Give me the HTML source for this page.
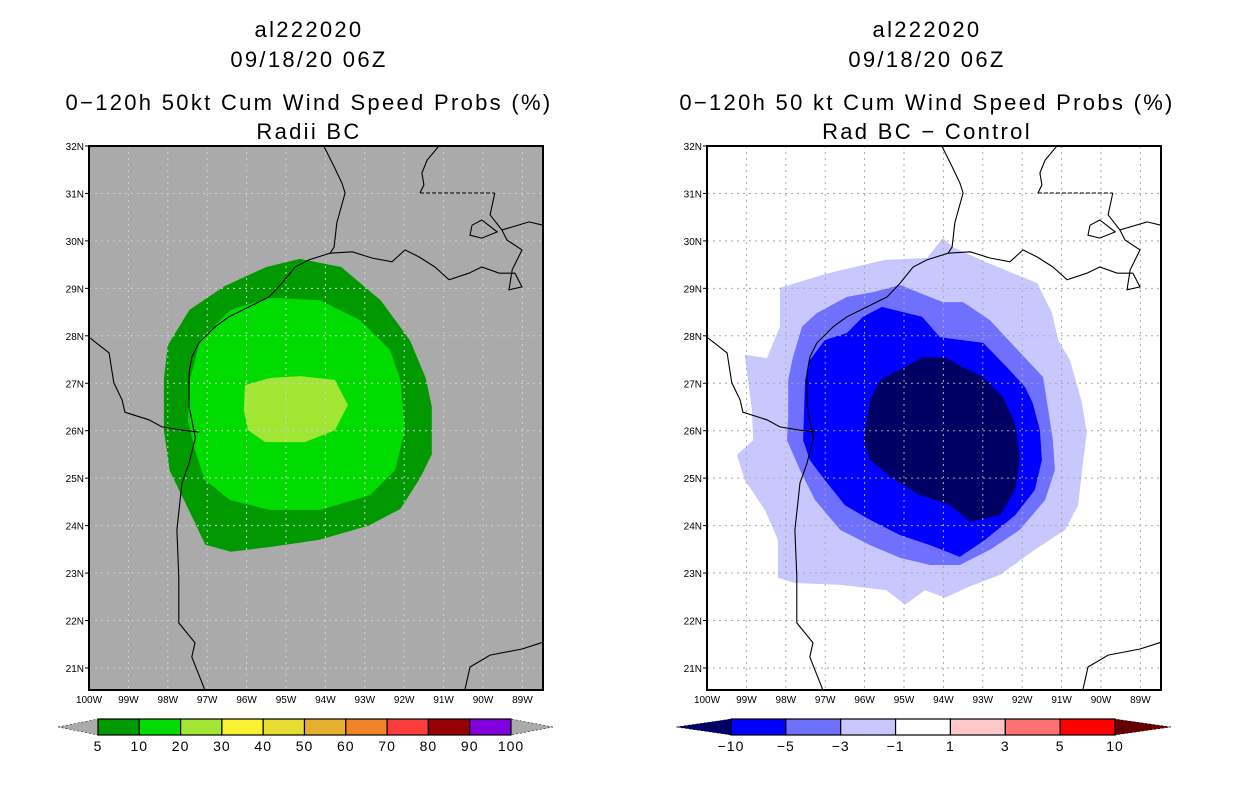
<!DOCTYPE html>
<html><head><meta charset="utf-8"><style>
html,body{margin:0;padding:0;background:#fff;}
svg{display:block;font-family:"Liberation Sans",sans-serif;}
.t{font-size:22px;text-anchor:middle;fill:#000;letter-spacing:2.3px;}
.ax{font-size:10px;fill:#000;}
.cb{font-size:14px;text-anchor:middle;fill:#000;letter-spacing:1px;}
</style></head><body>
<svg id="root" width="1236" height="800" viewBox="0 0 1236 800">
<g>
<text class="t" x="309" y="37">al222020</text>
<text class="t" x="309" y="67">09/18/20 06Z</text>
<text class="t" x="309" y="110">0−120h 50kt Cum Wind Speed Probs (%)</text>
<text class="t" x="309" y="139">Radii BC</text>
</g>
<g>
<text class="t" x="927" y="37">al222020</text>
<text class="t" x="927" y="67">09/18/20 06Z</text>
<text class="t" x="927" y="110">0−120h 50 kt Cum Wind Speed Probs (%)</text>
<text class="t" x="927" y="139">Rad BC − Control</text>
</g>
<g id="leftPanel"></g>
<g id="rightPanel"></g>
<g id="leftBar"></g>
<g id="rightBar"></g>
</svg>
<script>
const lonTicks=[-100,-99,-98,-97,-96,-95,-94,-93,-92,-91,-90,-89];
const lonLabels=["100W","99W","98W","97W","96W","95W","94W","93W","92W","91W","90W","89W"];
const latTicks=[21,22,23,24,25,26,27,28,29,30,31,32];
const latLabels=["21N","22N","23N","24N","25N","26N","27N","28N","29N","30N","31N","32N"];

const leftLevels=["5","10","20","30","40","50","60","70","80","90","100"];
const leftColors=["#009a00","#00dc00","#a0e632","#f8f232","#e6dc32","#e6af2d","#f08228","#fa3c3c","#960000","#8200dc"];
const rightLevels=["−10","−5","−3","−1","1","3","5","10"];
const rightColors=["#0000ff","#7070ff","#c8c8ff","#ffffff","#ffc8c8","#ff7070","#ff0000"];

const prob5=[[-98.1,27.1],[-98.0,27.8],[-97.45,28.55],[-96.55,29.05],[-95.5,29.45],[-94.65,29.62],[-93.6,29.45],[-92.6,28.75],[-91.85,27.9],[-91.45,27.1],[-91.3,26.5],[-91.3,25.5],[-91.6,25.0],[-92.1,24.35],[-92.9,24.0],[-94.15,23.7],[-95.4,23.55],[-96.4,23.45],[-97.05,23.6],[-97.45,24.3],[-97.95,25.15],[-98.1,26.0]];
const prob10=[[-97.44,27.07],[-97.18,27.91],[-96.42,28.54],[-95.41,28.8],[-94.14,28.75],[-93.12,28.33],[-92.36,27.7],[-92.1,27.07],[-91.98,26.01],[-92.23,25.17],[-92.87,24.64],[-94.14,24.33],[-95.41,24.33],[-96.42,24.54],[-97.06,24.96],[-97.31,25.59],[-97.49,26.22]];
const prob20=[[-96.04,26.96],[-95.41,27.11],[-94.64,27.15],[-93.76,27.07],[-93.43,26.54],[-93.76,26.01],[-94.52,25.76],[-95.53,25.76],[-95.96,26.01],[-96.07,26.43]];

const diff1=[[-99.04,27.60],[-98.48,27.53],[-98.15,28.19],[-98.15,29.01],[-96.93,29.32],[-95.48,29.60],[-94.42,29.64],[-94.01,30.06],[-93.76,29.87],[-92.94,29.56],[-91.62,29.11],[-91.24,28.48],[-91.09,27.91],[-90.79,27.49],[-90.48,26.58],[-90.36,25.95],[-90.48,25.17],[-90.58,24.43],[-90.91,23.91],[-91.68,23.49],[-92.56,22.96],[-93.32,22.72],[-93.96,22.48],[-94.47,22.64],[-94.97,22.33],[-95.45,22.64],[-96.62,22.75],[-97.77,22.79],[-98.20,22.90],[-98.20,23.70],[-98.53,24.33],[-99.04,24.96],[-99.24,25.49],[-98.83,25.80],[-98.86,26.44]];
const diff3=[[-95.10,29.07],[-94.59,28.90],[-94.01,28.71],[-93.50,28.71],[-92.82,28.33],[-92.18,27.76],[-91.47,27.13],[-91.35,26.50],[-91.22,25.80],[-91.17,25.17],[-91.42,24.54],[-92.06,23.91],[-92.82,23.49],[-93.58,23.17],[-94.34,23.17],[-95.10,23.32],[-95.86,23.59],[-96.62,23.91],[-97.26,24.54],[-97.64,25.17],[-97.97,25.80],[-97.94,26.29],[-97.94,27.07],[-97.82,27.55],[-97.59,28.19],[-97.21,28.48],[-96.45,28.82],[-95.79,28.92]];
const diff5=[[-95.56,28.61],[-95.03,28.50],[-94.54,28.40],[-94.09,27.97],[-92.99,27.85],[-92.39,27.34],[-91.93,26.92],[-91.73,26.58],[-91.55,26.01],[-91.50,25.38],[-91.68,24.75],[-92.18,24.22],[-92.94,23.70],[-93.58,23.34],[-94.34,23.59],[-95.10,23.80],[-95.86,24.12],[-96.50,24.43],[-97.01,24.96],[-97.39,25.38],[-97.56,25.80],[-97.51,27.07],[-97.39,27.49],[-97.01,27.91],[-96.45,28.06],[-96.04,28.40]];
const diff10=[[-94.52,27.55],[-93.96,27.55],[-93.50,27.34],[-92.99,27.13],[-92.49,26.71],[-92.18,26.16],[-92.06,25.38],[-92.18,24.75],[-92.56,24.22],[-93.32,24.08],[-93.83,24.43],[-94.59,24.64],[-95.23,24.96],[-95.86,25.38],[-96.02,25.80],[-95.86,26.65],[-95.61,27.07]];

const coastMain=[[-93.58,31.22],[-93.50,31.01],[-93.71,30.38],[-93.78,29.87],[-93.88,29.74],[-94.42,29.60],[-94.77,29.45],[-95.10,29.11],[-95.43,28.82],[-95.94,28.61],[-96.45,28.40],[-96.80,28.19],[-97.21,27.85],[-97.39,27.55],[-97.46,27.22],[-97.46,26.50],[-97.30,25.85],[-97.46,25.32],[-97.64,24.90],[-97.77,23.91],[-97.72,22.92],[-97.72,21.95],[-97.31,21.53],[-97.39,21.23],[-97.06,20.54]];
const sabine=[[-94.04,32.0],[-93.80,31.6],[-93.58,31.22]];
const coastEast=[[-93.88,29.74],[-93.32,29.77],[-92.82,29.64],[-92.31,29.56],[-91.98,29.81],[-91.62,29.66],[-91.22,29.45],[-90.86,29.18],[-90.36,29.32],[-90.03,29.45],[-89.59,29.32],[-89.19,29.32],[-89.01,29.03],[-89.34,28.97],[-89.26,29.39],[-89.01,29.81],[-89.39,30.02],[-89.52,30.23],[-88.83,30.40],[-88.48,30.33]];
const pearl=[[-89.70,31.01],[-89.82,30.55],[-89.52,30.23]];
const missRiver=[[-91.12,32.0],[-91.42,31.70],[-91.55,31.43],[-91.50,31.18],[-91.60,31.01]];
const lakeP=[[-90.28,30.33],[-90.03,30.44],[-89.64,30.19],[-90.03,30.06],[-90.33,30.12],[-90.28,30.33]];
const stateLine=[[-91.60,31.01],[-89.70,31.01]];
const rioGrande=[[-100,27.97],[-99.49,27.64],[-99.37,27.01],[-99.16,26.65],[-99.09,26.39],[-98.48,26.23],[-98.15,26.08],[-97.64,26.01],[-97.20,25.97]];
const yucatan=[[-90.46,20.54],[-90.33,21.02],[-89.82,21.27],[-89.01,21.40],[-88.45,21.55]];

const NS="http://www.w3.org/2000/svg";
const LON0=-100,LAT0=32,DX=39.4,DY=47.45,W=454,H=544,PY=146;
function mk(tag,attrs,parent){const e=document.createElementNS(NS,tag);for(const k in attrs)e.setAttribute(k,attrs[k]);parent.appendChild(e);return e;}
function panel(g,x0,bg,gridCol,fills){
  const xs=lon=>x0+(lon-LON0)*DX;
  const ys=lat=>PY+(LAT0-lat)*DY;
  const cid='clip'+x0;
  const defs=mk('defs',{},g);
  const cp=mk('clipPath',{id:cid},defs);
  mk('rect',{x:x0,y:PY,width:W,height:H},cp);
  const bgR=mk('rect',{x:x0,y:PY,width:W,height:H,fill:bg},g);
  
  
  const inner=mk('g',{'clip-path':'url(#'+cid+')'},g);
  fills.forEach(f=>{
    const p=mk('polygon',{points:f.pts.map(d=>xs(d[0]).toFixed(1)+','+ys(d[1]).toFixed(1)).join(' '),fill:f.color},inner);
    
    
  });
  lonTicks.forEach(l=>{const x=xs(l);
    const ln=mk('line',{x1:x,x2:x,y1:PY,y2:PY+H,stroke:gridCol,'stroke-width':1,'stroke-dasharray':'2,4'},inner);
    
    });
  latTicks.forEach(l=>{const y=ys(l);
    const ln=mk('line',{x1:x0,x2:x0+W,y1:y,y2:y,stroke:gridCol,'stroke-width':1,'stroke-dasharray':'2,4'},inner);
    
    });
  const lines=[[coastMain,'coastline',''],[sabine,'sabine-border',''],[coastEast,'louisiana-coast',''],[pearl,'pearl-river-border',''],[missRiver,'mississippi-border',''],[lakeP,'lake-pontchartrain',''],[stateLine,'state-border','4,2'],[rioGrande,'mexico-border',''],[yucatan,'yucatan-coast','']];
  lines.forEach(L=>{
    const p=mk('polyline',{points:L[0].map(d=>xs(d[0]).toFixed(1)+','+ys(d[1]).toFixed(1)).join(' '),fill:'none',stroke:'#000','stroke-width':1.1,'stroke-dasharray':L[2]||'none'},inner);
    
    
  });
  const fr=mk('rect',{x:x0,y:PY,width:W,height:H,fill:'none',stroke:'#000','stroke-width':2},g);
  
  
  lonTicks.forEach((l,i)=>{const x=xs(l);
    const t=mk('text',{x:x,y:PY+H+13,'text-anchor':'middle',class:'ax'},g);t.textContent=lonLabels[i];
    
    });
  latTicks.forEach((l,i)=>{const y=ys(l);
    mk('line',{x1:x0-4,x2:x0,y1:y,y2:y,stroke:'#000'},g);
    const t=mk('text',{x:x0-5,y:y+4,'text-anchor':'end',class:'ax'},g);t.textContent=latLabels[i];
    
    });
}
panel(document.getElementById('leftPanel'),89,'#aaaaaa','#cfcfcf',[
  {pts:prob5,color:leftColors[0],name:'contour-5-10'},
  {pts:prob10,color:leftColors[1],name:'contour-10-20'},
  {pts:prob20,color:leftColors[2],name:'contour-20-30'}]);
panel(document.getElementById('rightPanel'),707,'#ffffff','#aaaaaa',[
  {pts:diff1,color:rightColors[2],name:'contour-minus1-minus3'},
  {pts:diff3,color:rightColors[1],name:'contour-minus3-minus5'},
  {pts:diff5,color:rightColors[0],name:'contour-minus5-minus10'},
  {pts:diff10,color:'#000064',name:'contour-below-minus10'}]);

function colorbar(g,x0,x1,tipL,tipR,colors,labels,lcol,rcol){
  const y0=719,y1=735,ym=727,n=colors.length,w=(x1-x0)/n;
  const l=mk('polygon',{points:`${tipL},${ym} ${x0},${y0} ${x0},${y1}`,fill:lcol,stroke:'#000','stroke-width':0.5,'stroke-dasharray':'2,2'},g);
  
  
  const r=mk('polygon',{points:`${tipR},${ym} ${x1},${y0} ${x1},${y1}`,fill:rcol,stroke:'#000','stroke-width':0.5,'stroke-dasharray':'2,2'},g);
  
  
  colors.forEach((c,i)=>{
    const b=mk('rect',{x:x0+i*w,y:y0,width:w,height:y1-y0,fill:c,stroke:'#000','stroke-width':1.2},g);
    
    
  });
  labels.forEach((s,i)=>{
    const t=mk('text',{x:x0+i*w,y:751,class:'cb'},g);t.textContent=s;
    
    
  });
}
colorbar(document.getElementById('leftBar'),98,511,58,553,leftColors,leftLevels,'#aaaaaa','#aaaaaa');
colorbar(document.getElementById('rightBar'),731,1115,676,1171,rightColors,rightLevels,'#000064','#640000');
</script>
</body></html>
